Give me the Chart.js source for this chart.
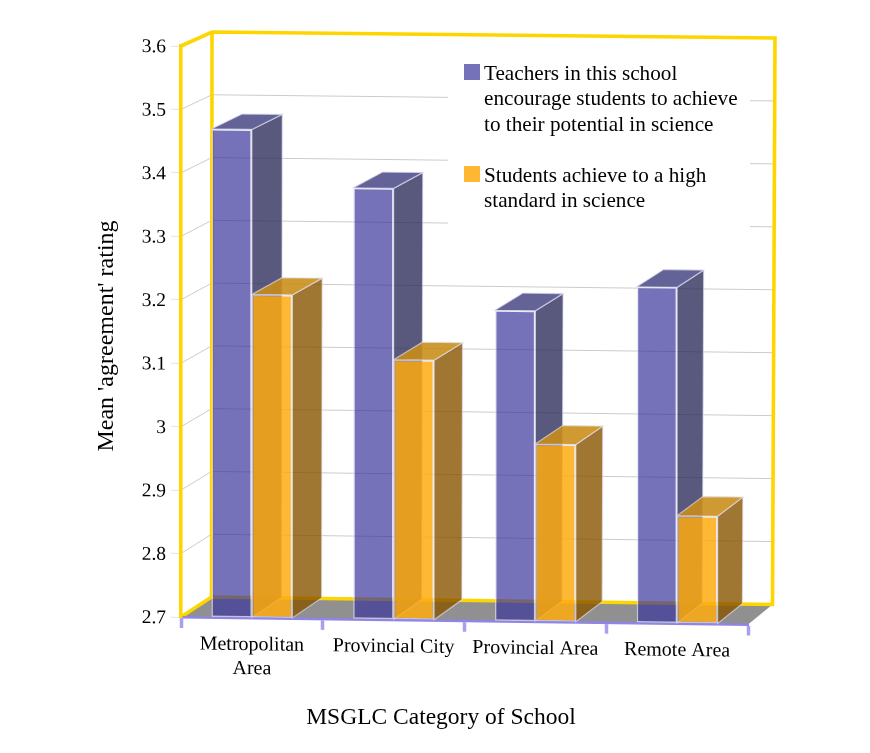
<!DOCTYPE html>
<html>
<head>
<meta charset="utf-8">
<title>MSGLC Category of School</title>
<script src="https://cdn.jsdelivr.net/npm/chart.js@4/dist/chart.umd.min.js"></script>
<style>
  html, body { margin: 0; padding: 0; background: #fff; }
  canvas { display: block; }
</style>
</head>
<body>
<canvas id="myChart" width="870" height="753"></canvas>
<script>
const categories = [['Metropolitan', 'Area'], 'Provincial City', 'Provincial Area', 'Remote Area'];
const teachersValues = [3.47, 3.38, 3.19, 3.23];
const studentsValues = [3.21, 3.11, 2.98, 2.87];
const yTickLabels = ['2.7', '2.8', '2.9', '3', '3.1', '3.2', '3.3', '3.4', '3.5', '3.6'];
const teachersLabel = ['Teachers in this school', 'encourage students to achieve', 'to their potential in science'];
const studentsLabel = ['Students achieve to a high', 'standard in science'];
const xTitle = 'MSGLC Category of School';
const yTitle = "Mean 'agreement' rating";

const serif = '"Liberation Serif", "Times New Roman", serif';
const gold = '#ffd500';
const edge = 'rgba(226,224,242,0.65)';

// the whole front plane tilts down a little towards the right
const tilt = 0.0132;

// corners of the back wall, the front plane is mapped onto them
const backTL = [212, 32];
const backTR = [775, 38];
const backBL = [211.5, 597];
const backBR = [772.5, 604.5];

function front(area, x, y) {
  return [x, y + tilt * (x - area.left)];
}

function back(area, x, y) {
  const u = (x - area.left) / (area.right - area.left);
  const v = (y - area.top) / (area.bottom - area.top);
  const topX = backTL[0] + u * (backTR[0] - backTL[0]);
  const topY = backTL[1] + u * (backTR[1] - backTL[1]);
  const botX = backBL[0] + u * (backBR[0] - backBL[0]);
  const botY = backBL[1] + u * (backBR[1] - backBL[1]);
  return [topX + v * (botX - topX), topY + v * (botY - topY)];
}

function poly(ctx, pts, fill, stroke, width) {
  ctx.beginPath();
  pts.forEach((p, i) => (i ? ctx.lineTo(p[0], p[1]) : ctx.moveTo(p[0], p[1])));
  if (fill) {
    ctx.closePath();
    ctx.fillStyle = fill;
    ctx.fill();
  }
  if (stroke) {
    ctx.strokeStyle = stroke;
    ctx.lineWidth = width;
    ctx.stroke();
  }
}

function drawLegendBlock(ctx, lines, color, swatchY) {
  ctx.fillStyle = color;
  ctx.fillRect(464, swatchY, 16, 16);
  ctx.fillStyle = '#000';
  ctx.font = '21.2px ' + serif;
  ctx.textAlign = 'left';
  ctx.textBaseline = 'middle';
  lines.forEach((line, i) => ctx.fillText(line, 484, swatchY + 10 + i * 25.5));
}

function drawBarFaces(chart, meta) {
  const { ctx, chartArea: area } = chart;
  const ds = chart.data.datasets[meta.index];
  ctx.save();
  ctx.setTransform(1, 0, 0, 1, 0, 0);
  meta.data.forEach((bar) => {
    const { x, y, base, width } = bar.getProps(['x', 'y', 'base', 'width'], true);
    const l = x - width / 2;
    const r = x + width / 2;
    poly(ctx, [front(area, r, y), back(area, r, y), back(area, r, base), front(area, r, base)], ds.sideColor, edge, 1.2);
    poly(ctx, [front(area, l, y), front(area, r, y), back(area, r, y), back(area, l, y)], ds.topColor, edge, 1.2);
  });
  ctx.restore();
}

const box3d = {
  id: 'box3d',
  beforeDraw(chart) {
    const { ctx, chartArea: area, scales } = chart;
    const { left, right, top, bottom } = area;

    ctx.save();
    // floor
    poly(ctx, [front(area, left, bottom), front(area, right, bottom), back(area, right, bottom), back(area, left, bottom)], '#909090');

    // grid on the side wall and on the back wall
    yTickLabels.forEach((label, i) => {
      if (i === 0 || i === yTickLabels.length - 1) return;
      const y = scales.y.getPixelForValue(Number(label));
      poly(ctx, [[left, y], back(area, left, y), back(area, right, y)], null, '#cbcbcb', 1);
    });

    // yellow frame
    poly(ctx, [[left, top], backTL, backTR, backBR, backBL, [left, bottom]], null, gold, 3.6);
    poly(ctx, [backTL, backBL], null, gold, 3.6);

    // legend sits on a white panel over the grid
    ctx.fillStyle = '#fff';
    ctx.fillRect(448, 52, 302, 190);
    drawLegendBlock(ctx, teachersLabel, '#7572ba', 64);
    drawLegendBlock(ctx, studentsLabel, '#ffb733', 166);
    ctx.restore();

    // scales and bars are drawn tilted, restored in afterDraw
    ctx.save();
    ctx.transform(1, tilt, 0, 1, 0, -tilt * left);
  },
  // blue has to go down first so the orange bars overlap it
  beforeDatasetsDraw(chart) {
    chart.getSortedVisibleDatasetMetas().forEach((meta) => {
      drawBarFaces(chart, meta);
      meta.controller.draw();
    });
    return false;
  },
  afterDraw(chart) {
    const { ctx } = chart;
    ctx.restore();

    ctx.save();
    ctx.fillStyle = '#000';
    ctx.textAlign = 'center';
    ctx.textBaseline = 'middle';
    ctx.font = '23.5px ' + serif;
    ctx.fillText(xTitle, 441, 718);
    ctx.translate(107, 336);
    ctx.rotate(-Math.PI / 2);
    ctx.font = '24px ' + serif;
    ctx.fillText(yTitle, 0, 0);
    ctx.restore();
  },
};

new Chart(document.getElementById('myChart').getContext('2d'), {
  type: 'bar',
  data: {
    labels: categories,
    datasets: [
      {
        label: teachersLabel.join(' '),
        data: teachersValues,
        backgroundColor: 'rgba(58,54,157,0.7)',
        sideColor: 'rgba(48,48,92,0.8)',
        topColor: 'rgba(60,60,125,0.8)',
      },
      {
        label: studentsLabel.join(' '),
        data: studentsValues,
        backgroundColor: 'rgba(255,171,15,0.85)',
        sideColor: 'rgba(136,84,0,0.8)',
        topColor: 'rgba(202,141,26,0.89)',
      },
    ],
  },
  options: {
    responsive: false,
    animation: false,
    layout: { padding: { top: 46, right: 122, left: 0, bottom: 0 } },
    datasets: {
      bar: {
        base: 2.7,
        categoryPercentage: 0.571,
        barPercentage: 1,
        borderWidth: 1.5,
        borderColor: edge,
        borderSkipped: false,
      },
    },
    plugins: { legend: { display: false }, tooltip: { enabled: false } },
    scales: {
      x: {
        afterFit: (scale) => { scale.height = 136; },
        grid: { offset: true, drawOnChartArea: false, tickLength: 11, tickWidth: 3.5, tickColor: '#a99ff0' },
        border: { color: '#8f85e6', width: 2.5 },
        ticks: {
          color: '#000',
          font: { family: serif, size: 20 },
          padding: 4,
          autoSkip: false,
          maxRotation: 0,
        },
      },
      y: {
        min: 2.7,
        max: 3.6,
        afterFit: (scale) => { scale.width = 181; },
        grid: { drawOnChartArea: false, tickLength: 10, tickWidth: 1, tickColor: '#e2e0f5' },
        border: { color: gold, width: 3.6 },
        ticks: {
          stepSize: 0.1,
          color: '#000',
          padding: 5,
          labelOffset: 1.5,
          font: { family: serif, size: 19.5 },
          callback: (value, index) => yTickLabels[index],
        },
      },
    },
  },
  plugins: [box3d],
});
</script>
</body>
</html>
